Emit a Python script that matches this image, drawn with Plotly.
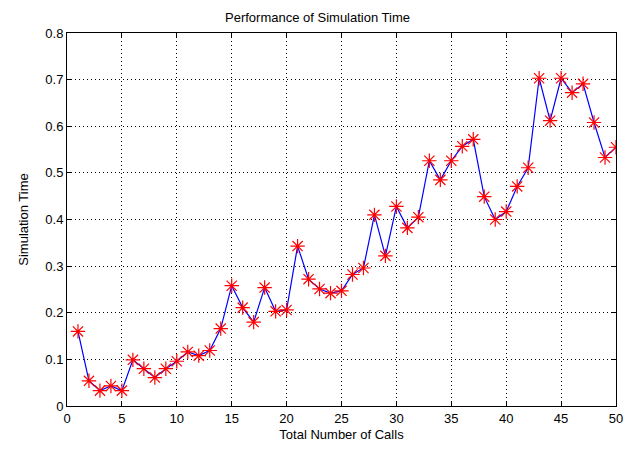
import plotly.graph_objects as go

calls = list(range(1, 51))
sim_time = [0.160, 0.054, 0.033, 0.043, 0.033, 0.099, 0.080, 0.061, 0.080, 0.096,
            0.116, 0.108, 0.119, 0.166, 0.258, 0.211, 0.180, 0.254, 0.203, 0.206,
            0.343, 0.272, 0.251, 0.242, 0.247, 0.282, 0.296, 0.410, 0.322, 0.428,
            0.382, 0.405, 0.526, 0.485, 0.526, 0.557, 0.572, 0.449, 0.400, 0.417,
            0.471, 0.511, 0.703, 0.612, 0.703, 0.672, 0.691, 0.608, 0.533, 0.555]
x_ticks = [0, 5, 10, 15, 20, 25, 30, 35, 40, 45, 50]
y_ticks = [0, 0.1, 0.2, 0.3, 0.4, 0.5, 0.6, 0.7, 0.8]
y_labels = ["0", "0.1", "0.2", "0.3", "0.4", "0.5", "0.6", "0.7", "0.8"]

font = "Liberation Sans, Arial, sans-serif"

fig = go.Figure()
fig.add_trace(go.Scatter(
    x=calls, y=sim_time, mode="lines+markers",
    line=dict(color="blue", width=1.2),
    marker=dict(symbol="asterisk-open", size=12, color="red",
                line=dict(color="red", width=1.2)),
    showlegend=False,
))

axis_common = dict(
    showline=True, linecolor="black", linewidth=1, mirror="ticks",
    ticks="inside", ticklen=5, tickcolor="black",
    showgrid=True, gridcolor="black", griddash="1px,3px", gridwidth=1,
    zeroline=False, tickfont=dict(family=font, size=13, color="black"),
)

fig.update_layout(
    width=635, height=452,
    margin=dict(l=67, r=14, t=33, b=44),
    paper_bgcolor="white", plot_bgcolor="white",
    font=dict(family=font, size=13, color="black"),
    title=dict(text="Performance of Simulation Time", x=0.5, xanchor="center",
               y=0.962, yanchor="middle", font=dict(size=13, family=font)),
    xaxis=dict(range=[0, 50], tickvals=x_ticks,
               title=dict(text="Total Number of Calls", standoff=5,
                          font=dict(size=13, family=font)),
               **axis_common),
    yaxis=dict(range=[0, 0.8], tickvals=y_ticks, ticktext=y_labels,
               title=dict(text="Simulation Time", standoff=13,
                          font=dict(size=13, family=font)),
               **axis_common),
)

fig.write_html("out.html")
